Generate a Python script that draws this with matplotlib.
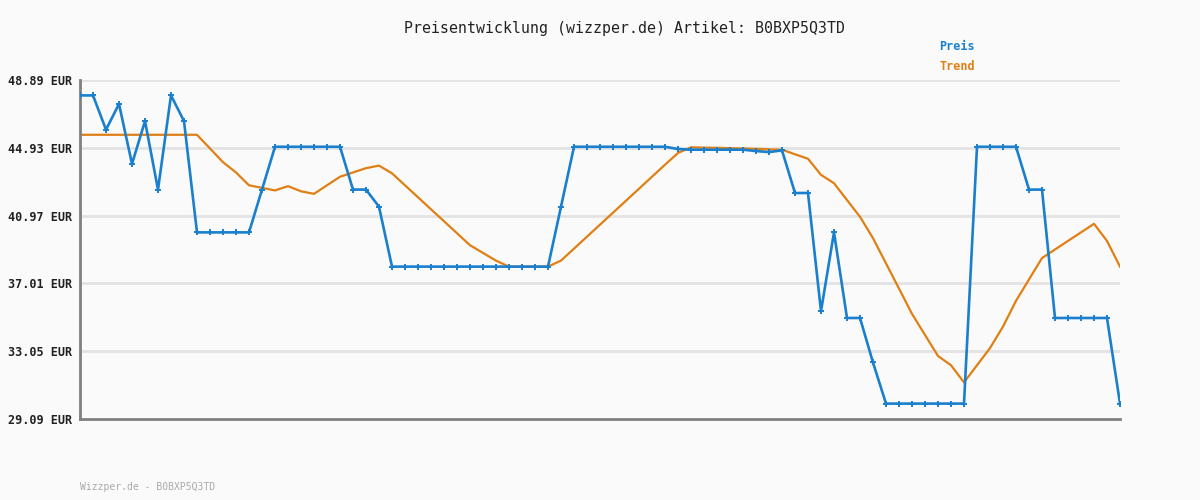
import matplotlib
matplotlib.use('Agg')
import matplotlib.pyplot as plt
import numpy as np

# Preis per Messpunkt (81 Punkte)
preis = [47.99, 47.99, 45.99, 47.49, 43.99, 46.49, 42.49, 47.99, 46.49,
         39.99, 39.99, 39.99, 39.99, 39.99, 42.49,
         44.99, 44.99, 44.99, 44.99, 44.99, 44.99,
         42.49, 42.49, 41.49,
         37.99, 37.99, 37.99, 37.99, 37.99, 37.99, 37.99, 37.99, 37.99, 37.99,
         37.99, 37.99, 37.99,
         41.49, 44.99, 44.99, 44.99, 44.99, 44.99, 44.99, 44.99, 44.99,
         44.86, 44.82, 44.82, 44.82, 44.82, 44.82, 44.74, 44.68, 44.78,
         42.29, 42.29, 35.39, 39.99, 34.99, 34.99, 32.39,
         29.99, 29.99, 29.99, 29.99, 29.99, 29.99, 29.99,
         44.99, 44.99, 44.99, 44.99, 42.49, 42.49,
         34.99, 34.99, 34.99, 34.99, 34.99, 29.99]

trend = [45.69, 45.69, 45.69, 45.69, 45.69, 45.69, 45.69, 45.69, 45.69, 45.69,
         44.89, 44.09, 43.49, 42.74, 42.59, 42.44, 42.69, 42.39, 42.24, 42.74,
         43.24, 43.49, 43.74, 43.89, 43.44, 42.74, 42.04, 41.34, 40.64, 39.94,
         39.24, 38.79, 38.34, 37.99, 37.99, 37.99, 37.99, 38.34, 39.04, 39.74,
         40.44, 41.14, 41.84, 42.54, 43.24, 43.94, 44.63, 44.96, 44.94, 44.93,
         44.91, 44.89, 44.87, 44.84, 44.82, 44.55, 44.29, 43.35, 42.86, 41.88,
         40.90, 39.65, 38.18, 36.71, 35.23, 34.00, 32.77, 32.23, 31.23, 32.23,
         33.23, 34.49, 35.99, 37.24, 38.49, 38.99, 39.49, 39.99, 40.49, 39.49,
         37.99]

y_ticks = [29.09, 33.05, 37.01, 40.97, 44.93, 48.89]
artikel = 'B0BXP5Q3TD'

blue = '#1a7fcc'
orange = '#e07f14'
bg = '#fafafa'
mono = 'DejaVu Sans Mono'

x = np.arange(len(preis))

fig = plt.figure(figsize=(12, 5), dpi=100, facecolor=bg)
ax = fig.add_axes([80 / 1200, 1 - 419 / 500, 1040 / 1200, 339 / 500])
ax.set_facecolor(bg)

for t in y_ticks[1:]:
    ax.axhline(t, color='#e3e3e3', lw=2, zorder=0)

ax.plot(x, trend, color=orange, lw=1.6, zorder=2)
ax.plot(x, preis, color=blue, lw=1.9, marker='+', ms=4, mew=1.4, zorder=3)

ax.set_xlim(0, len(preis) - 1)
ax.set_ylim(y_ticks[0], y_ticks[-1])
ax.set_xticks([])
ax.set_yticks(y_ticks)
ax.set_yticklabels([f'{t:.2f} EUR' for t in y_ticks],
                   fontfamily=mono, fontweight='bold', fontsize=8.5, color='#222222')
ax.tick_params(axis='y', length=0, pad=6)

for s in ['top', 'right']:
    ax.spines[s].set_visible(False)
for s in ['left', 'bottom']:
    ax.spines[s].set_color('#808080')
    ax.spines[s].set_linewidth(2)

fig.text(624 / 1200, 1 - 28 / 500, f'Preisentwicklung (wizzper.de) Artikel: {artikel}',
         ha='center', va='center', fontfamily=mono, fontsize=10.7, color='#222222')
fig.text(939 / 1200, 1 - 47 / 500, 'Preis', ha='left', va='center',
         fontfamily=mono, fontweight='bold', fontsize=8.5, color=blue)
fig.text(939 / 1200, 1 - 67 / 500, 'Trend', ha='left', va='center',
         fontfamily=mono, fontweight='bold', fontsize=8.5, color=orange)
fig.text(80 / 1200, 1 - 487 / 500, f'Wizzper.de - {artikel}', ha='left', va='center',
         fontfamily=mono, fontsize=7, color='#aaaaaa')

fig.savefig('out.png', dpi=100, facecolor=bg)
